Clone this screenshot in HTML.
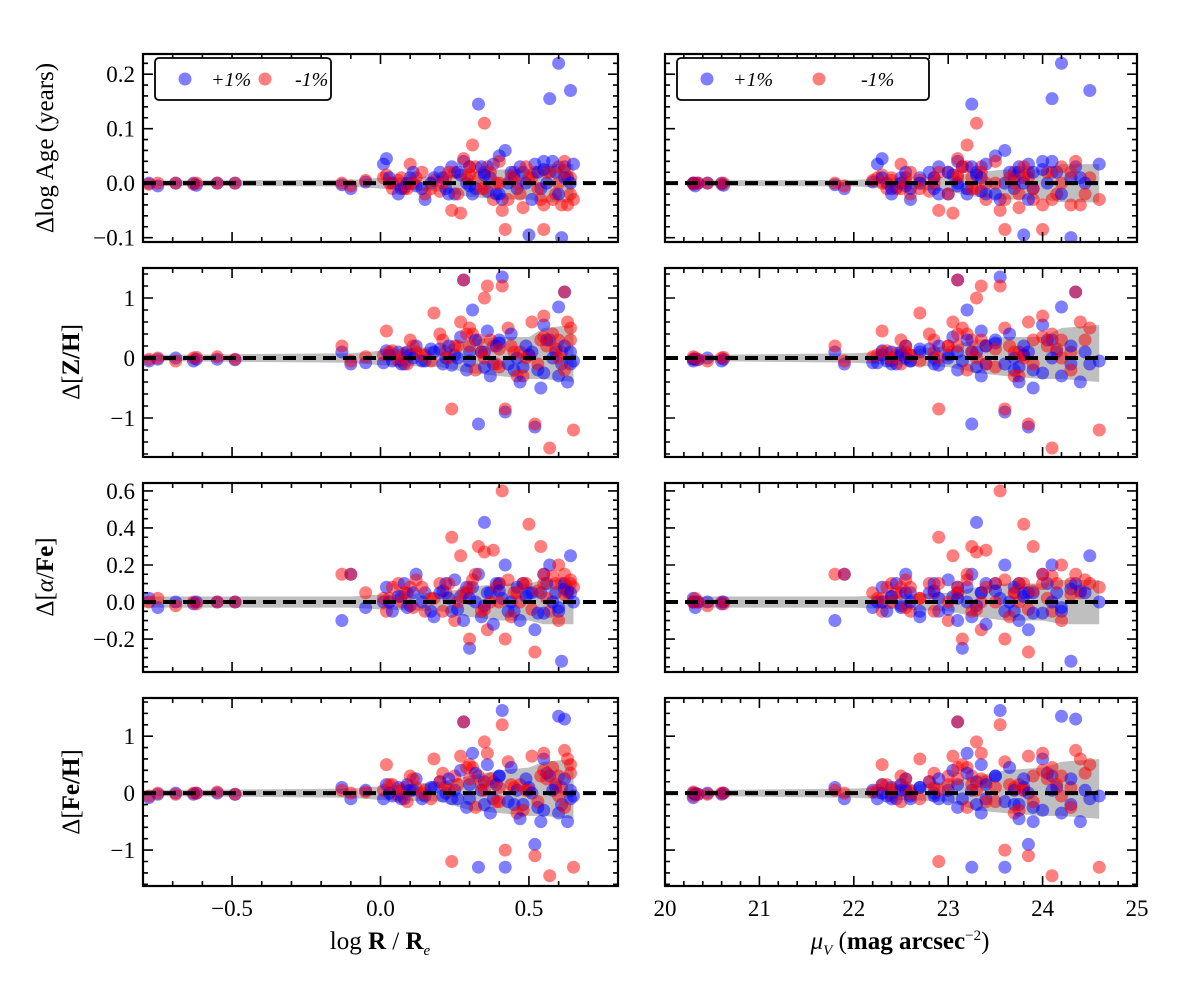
<!DOCTYPE html>
<html><head><meta charset="utf-8">
<style>
body{margin:0;background:#fff;}
svg{display:block;font-family:"Liberation Serif",serif;}
</style></head>
<body>
<svg id="fig" width="1200" height="987" viewBox="0 0 1200 987" xmlns="http://www.w3.org/2000/svg"></svg>
<script>
const logR=[-0.78,-0.75,-0.69,-0.63,-0.62,-0.55,-0.49,-0.13,-0.1,-0.05,0.01,0.02,0.04,0.06,0.08,0.1,0.12,0.15,0.18,0.2,0.22,0.24,0.25,0.27,0.28,0.3,0.31,0.33,0.35,0.36,0.38,0.4,0.41,0.42,0.45,0.48,0.5,0.52,0.54,0.55,0.57,0.59,0.6,0.61,0.62,0.63,0.64,0.65,
 0.03,0.07,0.09,0.11,0.14,0.17,0.21,0.23,0.26,0.29,0.32,0.34,0.37,0.39,0.43,0.44,0.46,0.47,0.49,0.51,0.53,0.56,0.58,0.6,0.62,0.64,0.3,0.35,0.4,0.55];
const muV=[20.3,20.32,20.45,20.6,20.62,20.3,20.35,21.8,21.9,22.2,22.25,22.3,22.35,22.4,22.45,22.5,22.55,22.6,22.7,22.8,22.85,22.9,23.0,23.05,23.1,23.15,23.2,23.25,23.3,23.35,23.4,23.5,23.55,23.6,23.7,23.75,23.8,23.85,23.9,24.0,24.1,24.15,24.2,24.3,24.35,24.4,24.5,24.6,
 22.3,22.4,22.5,22.55,22.6,22.7,22.85,22.9,23.0,23.1,23.2,23.25,23.35,23.4,23.6,23.65,23.7,23.75,23.8,23.85,23.9,24.05,24.1,24.2,24.3,24.45,23.1,23.3,23.5,24.0];
const agePlus=[0,-0.005,0,0,-0.004,0,0,-0.003,-0.01,0.002,0.035,0.045,0,-0.02,-0.008,0.01,-0.005,-0.03,0.01,0.02,-0.01,0.03,-0.02,0.015,0.04,0.03,-0.02,0.145,0.02,-0.015,0.035,0.05,-0.03,0.06,0.01,0.02,-0.095,0.035,-0.01,0.04,0.155,0.02,0.22,-0.1,0.03,0.01,0.17,0.035,
 0.01,-0.01,0.0,0.02,-0.01,0.0,0.01,-0.02,0.02,0.0,-0.01,0.03,0.01,-0.02,0.0,0.02,-0.01,0.03,0.0,-0.03,0.02,0.0,0.04,-0.02,0.01,0.0,-0.005,0.015,-0.02,0.025];
const ageMinus=[-0.002,0,0,-0.002,0,0,0,0,-0.005,0.005,0.01,0.015,-0.01,0.005,-0.01,0.035,0.01,-0.02,0.005,-0.015,0.01,-0.05,0.02,-0.055,0.045,0.03,0.07,0.01,0.11,0.03,-0.03,0.04,-0.05,-0.085,0.02,-0.045,0.01,0.02,-0.03,-0.085,0.02,-0.02,0.03,-0.04,0.04,-0.04,0.01,-0.03,
 0.0,0.01,-0.01,0.0,0.02,-0.01,0.0,0.02,-0.02,0.01,0.03,-0.01,0.02,0.0,-0.03,0.01,0.0,-0.02,0.03,0.01,-0.01,0.02,-0.03,0.0,0.02,-0.02,0.015,-0.01,0.0,-0.04];
const zhPlus=[-0.05,-0.02,0,-0.05,-0.02,-0.02,-0.03,0.1,-0.1,-0.08,-0.08,0.12,-0.05,0.1,-0.1,0.05,0.2,-0.05,0.1,0.15,0,-0.12,0.05,0.35,1.3,-0.05,0.8,-1.1,0.1,0.45,-0.1,0.3,1.35,-0.9,-0.2,-0.15,0.05,-1.15,-0.5,0.55,0.3,0.1,0.85,-0.1,1.1,-0.4,-0.1,-0.05,
 0.05,-0.1,0.1,0.0,-0.05,0.15,-0.1,0.2,0.0,-0.2,0.3,0.1,-0.3,0.2,-0.1,0.4,0.0,-0.4,0.2,0.1,-0.2,0.3,0.0,-0.3,0.2,0.1,0.1,-0.15,0.25,-0.25];
const zhMinus=[-0.02,0,-0.05,0,0.01,0.02,-0.02,0.2,-0.05,0.02,0.05,0.45,0.12,-0.05,0.08,0.3,0.1,0.05,0.75,0.4,0.1,-0.85,0.2,0.6,1.3,0.5,0.4,0.3,1.0,1.2,0.2,-0.15,1.2,-0.85,0.1,-0.3,0.05,-1.1,0.3,0.7,-1.5,0.15,0.3,0.1,1.1,0.6,0.5,-1.2,
 0.1,0.0,-0.1,0.2,0.05,-0.05,0.3,0.0,0.2,0.4,-0.2,0.1,0.3,-0.1,0.5,0.2,-0.3,0.1,0.0,0.6,-0.1,0.2,0.4,0.0,-0.2,0.3,0.2,0.0,0.15,0.35];
const afePlus=[0.02,-0.03,0,-0.01,0,0,0,-0.1,0.15,-0.03,0,0.08,-0.05,0.03,0.1,-0.02,0.15,0.05,-0.08,0.05,0.1,-0.05,0.12,0.03,-0.1,-0.25,0.08,0.15,0.43,0.05,-0.12,0.1,0.02,0.2,-0.05,0.1,0.05,-0.15,0.05,0.15,0.2,0.05,-0.05,-0.32,0.1,0.06,0.25,0.0,
 0.0,0.03,-0.03,0.05,0.0,-0.05,0.06,0.02,-0.04,0.08,0.0,-0.08,0.05,0.1,-0.05,0.0,0.08,-0.1,0.03,0.05,-0.06,0.1,0.0,-0.03,0.07,0.05,0.02,-0.02,0.06,-0.06];
const afeMinus=[0,0.02,-0.02,0,-0.01,0,0,0.15,0.15,0.05,0.02,-0.05,0.08,0.1,0.05,0.08,0.12,-0.05,0.02,0.1,0.05,0.35,-0.1,0.25,0.05,-0.2,0.12,0.3,0.27,-0.15,0.28,0.1,0.6,-0.2,0.05,0.1,0.42,-0.27,0.3,0.15,-0.05,0.1,0.2,0.1,0.15,0.05,0.1,0.08,
 0.02,0.0,0.05,-0.03,0.08,0.02,-0.05,0.1,0.0,0.05,0.15,-0.05,0.0,0.08,0.12,-0.08,0.05,0.0,0.1,-0.04,0.06,0.02,0.14,-0.1,0.04,0.12,0.08,-0.04,0.0,0.1];
const fehPlus=[-0.08,-0.02,0,-0.02,0,0,-0.02,0.1,-0.1,0.05,-0.1,0.15,-0.05,0.1,-0.1,0.05,0.25,-0.05,0.1,0.2,0,-0.1,0.05,0.4,1.25,-0.1,0.7,-1.3,0.2,0.5,-0.1,0.3,1.45,-1.3,-0.2,-0.2,0.1,-0.9,-0.5,0.6,0.3,0.1,1.35,-0.2,1.3,-0.5,-0.1,-0.05,
 0.0,-0.1,0.15,0.05,-0.1,0.1,-0.05,0.25,-0.1,-0.25,0.35,0.05,-0.35,0.15,-0.15,0.45,0.05,-0.45,0.25,0.0,-0.25,0.35,0.05,-0.35,0.25,0.05,0.15,-0.2,0.3,-0.3];
const fehMinus=[-0.05,0,-0.02,0,0,0.02,-0.02,0.05,0,0.02,0.05,0.5,0.15,-0.05,0.1,0.3,0.1,0.05,0.6,0.2,0.1,-1.2,0.3,0.65,1.25,0.5,0.45,0.3,0.9,0.7,0.2,-0.15,1.2,-1.0,0.1,-0.3,0.05,-1.1,0.3,0.7,-1.45,0.15,0.3,0.1,0.75,0.6,0.5,-1.3,
 0.15,0.05,-0.15,0.25,0.0,-0.1,0.35,0.05,0.15,0.45,-0.25,0.15,0.25,-0.15,0.55,0.15,-0.35,0.15,0.05,0.65,-0.15,0.25,0.45,-0.05,-0.25,0.35,0.25,0.05,0.1,0.4];
const bandLeftX=[-0.8,-0.1,0.0,0.2,0.3,0.4,0.5,0.55,0.65];
const bandRightX=[20.3,22.0,22.5,23.0,23.3,23.6,24.0,24.2,24.6];
const bandAgeLo=[-0.005,-0.006,-0.01,-0.015,-0.025,-0.03,-0.03,-0.035,-0.035];
const bandAgeHi=[0.005,0.006,0.01,0.012,0.02,0.025,0.025,0.035,0.035];
const bandZhLo=[-0.05,-0.08,-0.12,-0.15,-0.25,-0.3,-0.35,-0.35,-0.4];
const bandZhHi=[0.05,0.08,0.12,0.2,0.3,0.35,0.35,0.5,0.55];
const bandAfeLo=[-0.03,-0.03,-0.04,-0.05,-0.08,-0.1,-0.1,-0.12,-0.12];
const bandAfeHi=[0.03,0.03,0.04,0.05,0.08,0.1,0.1,0.12,0.12];
const bandFeLo=[-0.05,-0.08,-0.12,-0.15,-0.3,-0.35,-0.4,-0.4,-0.45];
const bandFeHi=[0.05,0.08,0.12,0.2,0.3,0.4,0.45,0.55,0.6];
const yTicks1=[-0.1,0.0,0.1,0.2];
const yTickLabels1=["\u22120.1","0.0","0.1","0.2"];
const yTicks2=[-1,0,1];
const yTickLabels2=["\u22121","0","1"];
const yTicks3=[-0.2,0.0,0.2,0.4,0.6];
const yTickLabels3=["\u22120.2","0.0","0.2","0.4","0.6"];
const xTicksL=[-0.5,0.0,0.5];
const xTickLabelsL=["\u22120.5","0.0","0.5"];
const xTicksR=[20,21,22,23,24,25];
const xTickLabelsR=["20","21","22","23","24","25"];

const NS="http://www.w3.org/2000/svg";
const svg=document.getElementById('fig');
function mk(tag,attrs,parent){const e=document.createElementNS(NS,tag);for(const k in attrs)e.setAttribute(k,attrs[k]);(parent||svg).appendChild(e);return e;}

const cols=[{x0:143,x1:618,d0:-0.8,d1:0.8,xs:logR,bx:bandLeftX,minor:0.1,ticks:xTicksL,labels:xTickLabelsL,name:'left'},
            {x0:665,x1:1137,d0:20,d1:25,xs:muV,bx:bandRightX,minor:0.2,ticks:xTicksR,labels:xTickLabelsR,name:'right'}];
const rows=[
 {y0:54,y1:242,d0:-0.108,d1:0.237,p:agePlus,m:ageMinus,lo:bandAgeLo,hi:bandAgeHi,ticks:yTicks1,labels:yTickLabels1,minor:0.02,name:'age'},
 {y0:268,y1:457,d0:-1.65,d1:1.5,p:zhPlus,m:zhMinus,lo:bandZhLo,hi:bandZhHi,ticks:yTicks2,labels:yTickLabels2,minor:0.2,name:'zh'},
 {y0:483,y1:672,d0:-0.378,d1:0.643,p:afePlus,m:afeMinus,lo:bandAfeLo,hi:bandAfeHi,ticks:yTicks3,labels:yTickLabels3,minor:0.05,name:'afe'},
 {y0:698,y1:886,d0:-1.63,d1:1.67,p:fehPlus,m:fehMinus,lo:bandFeLo,hi:bandFeHi,ticks:yTicks2,labels:yTickLabels2,minor:0.2,name:'feh'}];

rows.forEach((r,ri)=>{
 cols.forEach((c,ci)=>{
  const sx=v=>c.x0+(v-c.d0)/(c.d1-c.d0)*(c.x1-c.x0);
  const sy=v=>r.y1-(v-r.d0)/(r.d1-r.d0)*(r.y1-r.y0);
  const g=mk('g',{});
  
  
  const cid='clip'+ri+ci;
  const cp=mk('clipPath',{id:cid},g);mk('rect',{x:c.x0,y:r.y0,width:c.x1-c.x0,height:r.y1-r.y0},cp);
  const pg=mk('g',{'clip-path':'url(#'+cid+')'},g);
  let pts=c.bx.map((x,i)=>sx(x)+','+sy(r.hi[i]));
  for(let i=c.bx.length-1;i>=0;i--)pts.push(sx(c.bx[i])+','+sy(r.lo[i]));
  const band=mk('polygon',{points:pts.join(' '),fill:'#bfbfbf'},pg);
  
  
  c.xs.forEach((x,i)=>{
   const b=mk('circle',{cx:sx(x),cy:sy(r.p[i]),r:6.5,fill:'#0000ff','fill-opacity':0.5},pg);
   
   
   const rr=mk('circle',{cx:sx(x),cy:sy(r.m[i]),r:6.5,fill:'#ff0000','fill-opacity':0.5},pg);
   
   
  });
  const zl=mk('line',{x1:c.x0,x2:c.x1,y1:sy(0),y2:sy(0),stroke:'#000','stroke-width':4,'stroke-dasharray':'13,7'},pg);
  
  
  const tk=[];
  const st=(v,s)=>Math.round(v/s)*s;
  for(let v=st(r.d0,r.minor);v<=r.d1+1e-9;v+=r.minor){
   if(v<r.d0)continue;
   const maj=r.ticks.some(t=>Math.abs(t-v)<1e-6);const L=maj?10:5;const y=sy(v);
   tk.push(`M${c.x0},${y}h${L}M${c.x1},${y}h${-L}`);
  }
  for(let v=st(c.d0,c.minor);v<=c.d1+1e-9;v+=c.minor){
   if(v<c.d0-1e-9)continue;
   const maj=c.ticks.some(t=>Math.abs(t-v)<1e-6);
   const L=maj?10:5;const x=sx(v);
   tk.push(`M${x},${r.y1}v${-L}M${x},${r.y0}v${L}`);
  }
  mk('path',{d:tk.join(''),stroke:'#000','stroke-width':1.6,fill:'none'},g);
  const fr=mk('rect',{x:c.x0,y:r.y0,width:c.x1-c.x0,height:r.y1-r.y0,fill:'none',stroke:'#000','stroke-width':2.2},g);
  
  
  if(ci==0){
   r.ticks.forEach((t,i)=>{const tx=mk('text',{x:c.x0-8,y:sy(t)+8,'text-anchor':'end','font-size':23},g);tx.textContent=r.labels[i];
    
    });
  }
  if(ri==3){
   c.ticks.forEach((t,i)=>{const tx=mk('text',{x:sx(t),y:r.y1+30,'text-anchor':'middle','font-size':23},g);tx.textContent=c.labels[i];
    
    });
  }
  if(ri==0){
   const lg=mk('g',{},g);
   
   
   const lx=c.x0+12;
   mk('rect',{x:lx,y:r.y0+4,width:ci==0?176:252,height:42,rx:4,fill:'#fff',stroke:'#000','stroke-width':1.8},lg);
   const gap=ci==0?80:112;
   mk('circle',{cx:lx+30,cy:r.y0+25,r:6.5,fill:'#0000ff','fill-opacity':0.5},lg);
   const t1=mk('text',{x:lx+56,y:r.y0+32,'font-size':20,'font-style':'italic'},lg);t1.textContent='+1%';
   mk('circle',{cx:lx+30+gap,cy:r.y0+25,r:6.5,fill:'#ff0000','fill-opacity':0.5},lg);
   const t2=mk('text',{x:lx+56+gap+(ci==0?4:16),y:r.y0+32,'font-size':20,'font-style':'italic'},lg);t2.textContent='-1%';
  }
 });
});
</script>
<div style="position:absolute;left:0;top:0;width:1200px;height:987px;pointer-events:none;font-family:'Liberation Serif',serif;">
 <div style="position:absolute;left:46px;top:148px;transform:translate(-50%,-50%) rotate(-90deg);font-size:25px;white-space:nowrap;">Δlog Age (years)</div>
 <div style="position:absolute;left:72px;top:362px;transform:translate(-50%,-50%) rotate(-90deg);font-size:25px;white-space:nowrap;">Δ[<b>Z/H</b>]</div>
 <div style="position:absolute;left:46px;top:577px;transform:translate(-50%,-50%) rotate(-90deg);font-size:25px;white-space:nowrap;">Δ[<i>α</i>/<b>Fe</b>]</div>
 <div style="position:absolute;left:72px;top:792px;transform:translate(-50%,-50%) rotate(-90deg);font-size:25px;white-space:nowrap;">Δ[<b>Fe/H</b>]</div>
 <div style="position:absolute;left:380px;top:944px;transform:translate(-50%,-50%);font-size:25px;white-space:nowrap;">log <b>R</b> / <b>R</b><sub style="font-size:15px;font-style:italic">e</sub></div>
 <div style="position:absolute;left:900px;top:944px;transform:translate(-50%,-50%);font-size:25px;white-space:nowrap;"><i>μ</i><sub style="font-size:15px;font-style:italic">V</sub> (<b>mag arcsec</b><sup style="font-size:15px">−2</sup>)</div>
</div>
</body></html>
